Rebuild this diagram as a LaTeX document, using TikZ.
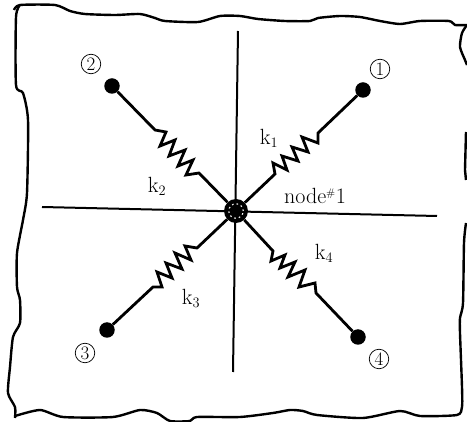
\documentclass[tikz,border=0pt]{standalone}
\usetikzlibrary{positioning, calc}

\begin{document}
\begin{tikzpicture}[
    x=1pt, y=-1pt,
    wall/.style={line width=2.4pt, line join=round},
    axis/.style={line width=2pt},
    spring/.style={line width=2.8pt, line join=miter},
    ball/.style={circle, fill=black, inner sep=0pt, minimum size=15.5pt},
    hub/.style={circle, fill=black, inner sep=0pt, minimum size=24pt},
    hubring/.style={circle, draw=white, line width=1.1pt, dash pattern=on 1.6pt off 3pt, inner sep=0pt, minimum size=14.5pt},
    tag/.style={circle, draw, line width=0.7pt, inner sep=0pt, minimum size=19.5pt, font=\fontsize{19}{19}\selectfont},
    lbl/.style={inner sep=0pt, font=\fontsize{22}{22}\selectfont}
]
\useasboundingbox (0,0) rectangle (467,422);

% border of the cut-out
\draw[wall] plot[smooth, tension=0.4] coordinates {(14,10) (20,5) (55,5) (70,11) (85,14) (115,15) (140,14) (155,18) (165,21) (198,22) (220,16) (240,16) (258,19) (285,21) (310,21) (318,18) (340,16) (360,17) (380,21) (400,24) (420,21) (449,21) (455,25) (467,25)};
\draw[wall] plot[smooth, tension=0.4] coordinates {(467,25) (462,33) (460,47) (465,60) (467,65)};
\draw[wall] (466,132) -- (465,170) -- (466,180);
\draw[wall] plot[smooth, tension=0.4] coordinates {(466,223) (464,243) (463,303) (460,318) (460,333) (462,387) (462,407) (457,415) (420,416) (400,411) (363,418) (317,415) (303,411) (290,410) (273,413) (240,417) (197,417) (190,421) (170,421) (157,413) (140,410) (113,417) (63,417) (40,410) (15,416)};
\draw[wall] plot[smooth, tension=0.4] coordinates {(15,418) (15,407) (8,393) (10,367) (13,337) (20,323) (20,300) (17,287) (17,253) (23,220) (27,193) (28,120) (23,93) (16,85) (16,17) (20,5)};

% axes
\coordinate (left) at (42,207);
\coordinate (right) at (437,216);
\coordinate (top) at (238,31);
\coordinate (bottom) at (233,372);
\draw[axis] (left) -- (right);
\draw[axis] (top) -- (bottom);

% nodes
\node[hub] (hub) at (236,211) {};
\node[hubring] (ring) at (hub.center) {};
\node[ball] (n1) at (363,90) {};
\node[ball] (n2) at (112,86) {};
\node[ball] (n3) at (107,330) {};
\node[ball] (n4) at (358,337) {};

% springs
\draw[spring] (hub) -- (275,174) -- (273,163) -- (287,170) -- (282,156) -- (298,161) -- (292,147) -- (308,152) -- (302,137) -- (318,143) -- (318,133) -- (n1);
\draw[spring] (hub) -- (199,173) -- (186,175) -- (193,160) -- (178,166) -- (185,150) -- (169,156) -- (175,140) -- (160,146) -- (166,132) -- (155,130) -- (n2);
\draw[spring] (hub) -- (197,248) -- (185,246) -- (191,260) -- (175,253) -- (182,269) -- (166,263) -- (172,278) -- (157,272) -- (162,287) -- (153,287) -- (n3);
\draw[spring] (hub) -- (273,251) -- (271,261) -- (285,255) -- (280,268) -- (295,262) -- (288,277) -- (305,270) -- (299,287) -- (315,283) -- (316,293) -- (n4);

% labels
\node[tag] (t1) at (380,69) {1};
\node[tag] (t2) at (91,64) {2};
\node[tag] (t3) at (85,353) {3};
\node[tag] (t4) at (379,359) {4};
\node[lbl] (k1) at (269,138) {k$_1$};
\node[lbl] (k2) at (157,186) {k$_2$};
\node[lbl] (k3) at (191,298) {k$_3$};
\node[lbl] (k4) at (324,253) {k$_4$};
\node[lbl] (name) at (315,196) {node$^{\scriptscriptstyle\#}$1};
\end{tikzpicture}
\end{document}
